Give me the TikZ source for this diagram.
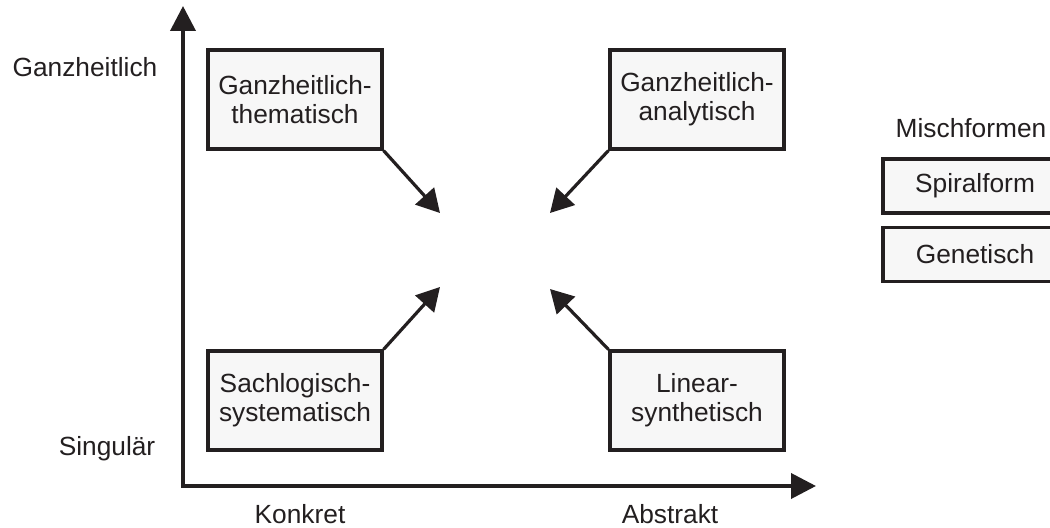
\documentclass[tikz,border=0pt]{standalone}
\usepackage{fontspec}
\setmainfont{Liberation Sans}
\usetikzlibrary{arrows.meta}
\definecolor{ink}{HTML}{231F20}
\definecolor{boxfill}{HTML}{F7F7F7}
\begin{document}
\begin{tikzpicture}[x=1bp,y=-1bp,
  font=\fontsize{26.3bp}{29bp}\selectfont, text=ink,
  lbl/.style={inner sep=0pt, align=center},
  quad/.style={draw=ink, line width=3.2bp, fill=boxfill, minimum width=174bp,
    minimum height=99bp, inner sep=0pt, align=center},
  mix/.style={draw=ink, line width=3.2bp, fill=boxfill, minimum width=184bp,
    minimum height=54bp, inner sep=0pt},
  axis/.style={draw=ink, line width=3.8bp, -{Triangle[length=25bp,width=25bp]}},
  pointer/.style={draw=ink, line width=3.2bp, -{Triangle[length=23bp,width=25bp]}}]
\useasboundingbox (0,0) rectangle (1050,528);
\clip (0,0) rectangle (1050,528);

% axes
\coordinate (origin) at (183,486);
\coordinate (ytip) at (183,6);
\coordinate (xtip) at (816,486);
\draw[axis] (origin) -- (ytip);
\draw[axis] ([xshift=-1.9bp]origin) -- (xtip);

% axis labels
\node[lbl] (ganz) at (85,67.5) {Ganzheitlich};
\node[lbl] (sing) at (107,449) {Singulär};
\node[lbl] (konk) at (300,514) {Konkret};
\node[lbl] (abst) at (670,514) {Abstrakt};

% four quadrant boxes
\node[quad] (gt) at (295,99.5) {Ganzheitlich-\\thematisch};
\node[quad] (ga) at (697,99.5) {Ganzheitlich-\\analytisch};
\node[quad] (ss) at (295,400.5) {Sachlogisch-\\systematisch};
\node[quad] (ls) at (697,400.5) {Linear-\\synthetisch};

% pointers towards the centre
\coordinate (tgt) at (440,213);
\coordinate (tga) at (550,213);
\coordinate (tss) at (440,287);
\coordinate (tls) at (550,289);
\draw[pointer] (gt.south east) -- (tgt);
\draw[pointer] (ga.south west) -- (tga);
\draw[pointer] (ss.north east) -- (tss);
\draw[pointer] (ls.north west) -- (tls);

% mixed forms
\node[lbl] (misch) at (971,128.5) {Mischformen};
\node[mix] (spir) at (975,186) {Spiralform};
\node[mix] (gene) at (975,254.5) {Genetisch};
\end{tikzpicture}
\end{document}
